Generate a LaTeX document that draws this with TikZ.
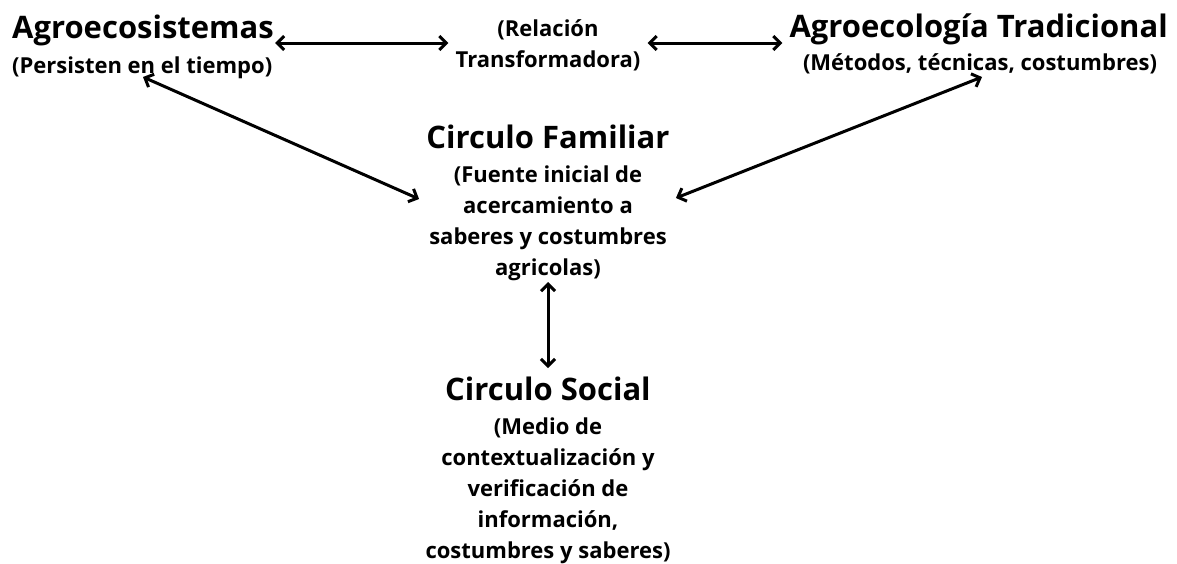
\documentclass[tikz,border=0pt]{standalone}
\usepackage{fontspec}
\setmainfont{Open Sans}
\usetikzlibrary{arrows.meta}
\newcommand\mylines[1]{\begin{tabular}[t]{@{}c@{}}#1\end{tabular}}
\tikzset{
  ttl/.style={font=\fontsize{31}{35}\selectfont\bfseries, inner sep=0pt},
  sub/.style={font=\fontsize{22}{31}\selectfont\bfseries, inner sep=0pt},
  arr/.style={line width=3pt, {Straight Barb[length=7pt,width=14pt]}-{Straight Barb[length=7pt,width=14pt]}}
}
\begin{document}
\begin{tikzpicture}[x=1pt,y=-1pt]
\useasboundingbox (0,0) rectangle (1177,563);
\node[ttl, anchor=base west] (agrot) at (12,38) {Agroecosistemas};
\node[sub, anchor=base west] (agros) at (12,73) {(Persisten en el tiempo)};
\node[sub, anchor=base] (rel) at (548,36) {\mylines{(Relación\\Transformadora)}};
\node[ttl, anchor=base east] (tradt) at (1168,37) {Agroecología Tradicional};
\node[sub, anchor=base] (trads) at (980,70) {(Métodos, técnicas, costumbres)};
\node[ttl, anchor=base] (famt) at (548,148) {Circulo Familiar};
\node[sub, anchor=base] (fams) at (548,182) {\mylines{(Fuente inicial de\\acercamiento a\\saberes y costumbres\\agricolas)}};
\node[ttl, anchor=base] (soct) at (548,400) {Circulo Social};
\node[sub, anchor=base] (socs) at (548,434) {\mylines{(Medio de\\contextualización y\\verificación de\\información,\\costumbres y saberes)}};
\draw[arr] ([xshift=1pt,yshift=-5pt]agrot.base east) -- ([xshift=-7pt,yshift=-7pt]rel.base west);
\draw[arr] ([xshift=7pt,yshift=-7pt]rel.base east) -- ([xshift=-7pt,yshift=-6pt]tradt.base west);
\draw[arr] ([xshift=131pt,yshift=-4pt]agros.base west) -- ([xshift=-10pt,yshift=-17pt]fams.base west);
\draw[arr] ([xshift=2pt,yshift=-7pt]trads.base) -- ([xshift=9pt,yshift=-16pt]fams.base east);
\draw[arr] ([yshift=-100pt]fams.base) -- ([yshift=32pt]soct.base);
\end{tikzpicture}
\end{document}
